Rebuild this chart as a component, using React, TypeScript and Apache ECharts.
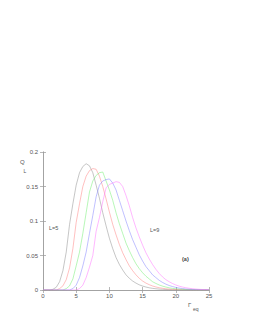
import React, { useEffect, useRef } from "react";
import * as echarts from "echarts";

const xs = [0, 0.5, 1, 1.5, 2, 2.5, 3, 3.5, 4, 4.5, 5, 5.5, 6, 6.5, 7, 7.5, 8, 8.5, 9, 9.5, 10, 10.5, 11, 11.5, 12, 12.5, 13, 13.5, 14, 14.5, 15, 15.5, 16, 16.5, 17, 17.5, 18, 18.5, 19, 19.5, 20, 20.5, 21, 21.5, 22, 22.5, 23, 23.5, 24, 24.5, 25];

const L5 = [0, 0, 0, 0.001, 0.004, 0.012, 0.028, 0.055, 0.095, 0.125, 0.152, 0.17, 0.179, 0.183, 0.18, 0.17, 0.152, 0.133, 0.112, 0.093, 0.075, 0.06, 0.047, 0.037, 0.029, 0.022, 0.017, 0.013, 0.01, 0.0075, 0.0057, 0.0043, 0.0032, 0.0024, 0.0018, 0.0013, 0.001, 0.0007, 0.0005, 0.0004, 0.0003, 0.0002, 0.0002, 0.0001, 0.0001, 0, 0, 0, 0, 0, 0];
const L6 = [0, 0, 0, 0, 0, 0.002, 0.006, 0.015, 0.032, 0.06, 0.098, 0.125, 0.15, 0.165, 0.173, 0.176, 0.175, 0.165, 0.15, 0.132, 0.113, 0.095, 0.08, 0.066, 0.054, 0.044, 0.035, 0.028, 0.022, 0.017, 0.013, 0.01, 0.0077, 0.0058, 0.0044, 0.0033, 0.0025, 0.0018, 0.0013, 0.001, 0.0007, 0.0005, 0.0004, 0.0003, 0.0002, 0.0001, 0, 0, 0, 0, 0];
const L7 = [0, 0, 0, 0, 0, 0, 0, 0.002, 0.006, 0.016, 0.035, 0.055, 0.082, 0.112, 0.142, 0.158, 0.166, 0.17, 0.171, 0.158, 0.145, 0.13, 0.112, 0.096, 0.082, 0.068, 0.057, 0.047, 0.038, 0.031, 0.025, 0.02, 0.016, 0.012, 0.0095, 0.0073, 0.0056, 0.0043, 0.0032, 0.0024, 0.0018, 0.0013, 0.001, 0.0007, 0.0005, 0.0004, 0.0003, 0.0002, 0.0001, 0.0001, 0];
const L8 = [0, 0, 0, 0, 0, 0, 0, 0, 0, 0.002, 0.007, 0.018, 0.035, 0.055, 0.082, 0.108, 0.135, 0.152, 0.158, 0.16, 0.161, 0.155, 0.145, 0.13, 0.115, 0.1, 0.086, 0.073, 0.062, 0.051, 0.042, 0.034, 0.028, 0.022, 0.018, 0.014, 0.011, 0.0085, 0.0065, 0.005, 0.0038, 0.0028, 0.0021, 0.0015, 0.0011, 0.0008, 0.0006, 0.0004, 0.0003, 0.0002, 0.0001];
const L9 = [0, 0, 0, 0, 0, 0, 0, 0, 0, 0, 0, 0.002, 0.007, 0.018, 0.033, 0.05, 0.085, 0.105, 0.128, 0.148, 0.153, 0.155, 0.157, 0.156, 0.15, 0.137, 0.122, 0.105, 0.09, 0.077, 0.065, 0.054, 0.045, 0.037, 0.03, 0.024, 0.019, 0.015, 0.012, 0.0094, 0.0073, 0.0056, 0.0043, 0.0033, 0.0025, 0.0019, 0.0014, 0.001, 0.0007, 0.0005, 0.0003];

const seriesNames = ["L=5", "L=6", "L=7", "L=8", "L=9"];
const seriesValues = [L5, L6, L7, L8, L9];
const seriesColors = ["#8c8c8c", "#ff8080", "#70ee70", "#8080ff", "#ff70ff"];

const FONT = "Liberation Sans, Arial, sans-serif";

export default function App() {
  const ref = useRef<HTMLDivElement>(null);
  useEffect(() => {
    if (!ref.current) return;
    const chart = echarts.init(ref.current, null, { renderer: "svg" });
    const axisLine = { show: true, lineStyle: { color: "#999", width: 0.7 } };
    const tick = { show: true, inside: true, length: 3, lineStyle: { color: "#999", width: 0.7 } };
    const lbl = { color: "#555", fontSize: 6, fontFamily: FONT };
    chart.setOption({
      animation: false,
      backgroundColor: "#fff",
      grid: { left: 43, top: 152, width: 166, height: 138, containLabel: false },
      xAxis: [
        {
          type: "value", min: 0, max: 25, interval: 5, position: "bottom",
          axisLine, axisTick: tick, splitLine: { show: false },
          axisLabel: { ...lbl, margin: 3 },
        },
        {
          type: "value", min: 0, max: 25, interval: 5, position: "top",
          axisLine, axisTick: tick, splitLine: { show: false }, axisLabel: { show: false },
        },
      ],
      yAxis: [
        {
          type: "value", min: 0, max: 0.2, interval: 0.05, position: "left",
          axisLine, axisTick: tick, splitLine: { show: false },
          axisLabel: { ...lbl, margin: 5 },
        },
        {
          type: "value", min: 0, max: 0.2, interval: 0.05, position: "right",
          axisLine, axisTick: tick, splitLine: { show: false }, axisLabel: { show: false },
        },
      ],
      series: seriesValues.map((vals, i) => ({
        name: seriesNames[i],
        type: "line",
        showSymbol: false,
        symbol: "none",
        data: xs.map((x, j) => [x, vals[j]]),
        lineStyle: { color: seriesColors[i], width: 0.5 },
        itemStyle: { color: seriesColors[i] },
      })),
      graphic: [
        { type: "text", left: 20, top: 159, style: { text: "Q", fontSize: 6, fill: "#555", fontFamily: FONT } },
        { type: "text", left: 23.5, top: 168, style: { text: "L", fontSize: 5, fill: "#555", fontFamily: FONT } },
        { type: "text", left: 188, top: 302, style: { text: "Γ", fontSize: 6, fill: "#555", fontFamily: FONT } },
        { type: "text", left: 193, top: 306.5, style: { text: "eq", fontSize: 5, fill: "#555", fontFamily: FONT } },
        { type: "text", left: 49, top: 224.5, style: { text: "L=5", fontSize: 5.5, fill: "#555", fontFamily: FONT } },
        { type: "text", left: 150, top: 226.5, style: { text: "L=9", fontSize: 5.5, fill: "#555", fontFamily: FONT } },
        { type: "text", left: 182, top: 255.5, style: { text: "(a)", fontSize: 5.5, fill: "#444", fontFamily: FONT, fontWeight: "bold" } },
      ],
    });
    return () => chart.dispose();
  }, []);
  return <div ref={ref} style={{ width: 253, height: 327, position: "absolute", left: 0, top: 0 }} />;
}
